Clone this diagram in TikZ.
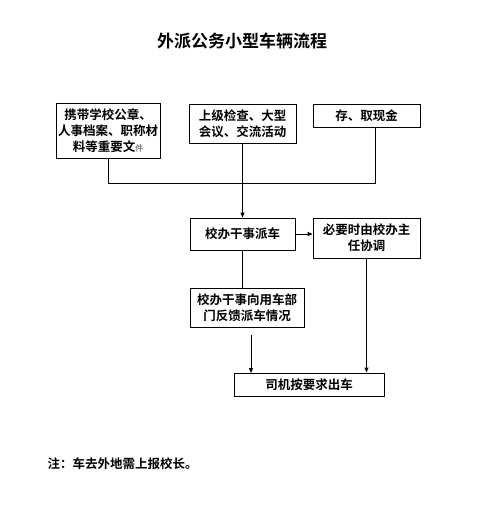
\documentclass[tikz,border=0pt]{standalone}
\usepackage{fontspec}
\newfontfamily\cjk{Noto Sans CJK SC Bold}
\usetikzlibrary{arrows.meta}
\begin{document}
\begin{tikzpicture}[x=1pt,y=-1pt,
  box/.style={draw=black,line width=0.9pt,inner sep=0pt,align=center,
    font=\cjk\fontsize{12.5}{16}\selectfont},
  conn/.style={line width=0.9pt},
  arr/.style={line width=0.9pt,-{Triangle[length=5pt,width=4pt]}}]
\useasboundingbox (0,0) rectangle (493,532);
\node (title) at (242,41) {\cjk\fontsize{17}{20}\selectfont 外派公务小型车辆流程};
\node[box,minimum width=104pt,minimum height=55pt] (b1) at (108,130.5)
  {携带学校公章、\\人事档案、职称材\\料等重要文{\fontsize{8}{16}\selectfont\color{gray}件}};
\node[box,minimum width=107pt,minimum height=39pt] (b2) at (242.5,123.5)
  {上级检查、大型\\会议、交流活动};
\node[box,minimum width=107pt,minimum height=23pt] (b3) at (366.5,115.5)
  {存、取现金};
\node[box,minimum width=105pt,minimum height=32pt] (b4) at (242.5,234)
  {校办干事派车};
\node[box,minimum width=107pt,minimum height=40pt] (b5) at (366.5,238)
  {必要时由校办主\\任协调};
\node[box,minimum width=114pt,minimum height=39pt] (b6) at (247,307.5)
  {校办干事向用车部\\门反馈派车情况};
\node[box,minimum width=150pt,minimum height=23pt] (b7) at (309,384.5)
  {司机按要求出车};
\node[anchor=west,font=\cjk\fontsize{12.5}{16}\selectfont] (note) at (44,464)
  {注：车去外地需上报校长。};
\coordinate (c1) at (108,183);
\coordinate (c3) at (375,183);
\coordinate (c3t) at (375,127);
\coordinate (c6) at (251,335);
\coordinate (c6e) at (251,373);
\draw[conn] (b1.south) -- (c1) -- (c3) -- (c3t);
\draw[arr] (b2.south) -- (b4.north);
\draw[arr] (b4.east) -- (b5.west |- b4.east);
\draw[conn] (b4.south) -- (b6.north -| b4.south);
\draw[arr] (c6) -- (c6e);
\draw[arr] (b5.south) -- (b5.south |- b7.north);
\end{tikzpicture}
\end{document}
